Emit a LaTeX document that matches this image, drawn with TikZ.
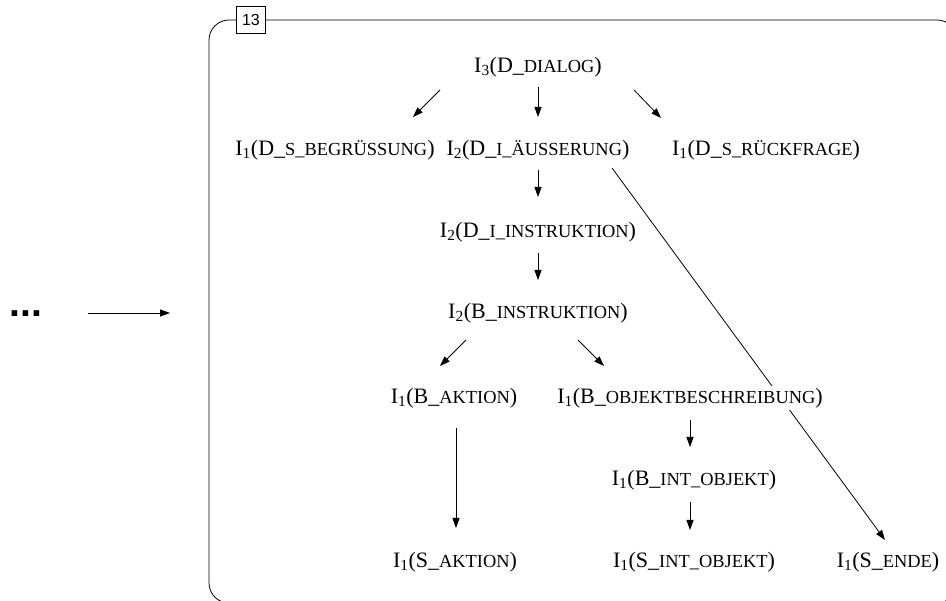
\documentclass[tikz,border=0pt]{standalone}
\usepackage{fontspec}
\setmainfont{Liberation Serif}
\setsansfont{Liberation Sans}
\usetikzlibrary{calc,arrows.meta,backgrounds}
% faked small capitals: upper case set smaller
\newcommand{\smc}[1]{{\fontsize{18.4}{20}\selectfont #1}}
% I_n(X_rest) label
\newcommand{\lbl}[3]{I\textsubscript{#1}(#2\_\smc{#3})}
\begin{document}
\begin{tikzpicture}[x=1pt,y=-1pt,
  lab/.style={inner sep=2pt,fill=white,font=\fontsize{22}{26}\selectfont},
  arr/.style={line width=0.8pt,-{Triangle[length=10pt,width=7pt]}},
  plain/.style={line width=0.8pt}]
\useasboundingbox (0,0) rectangle (946,601);
\clip (0,0) rectangle (946,601);

% enclosing frame with its number
\draw[plain,rounded corners=20pt] (209,20) rectangle (957,603);
\node[draw,fill=white,line width=0.8pt,inner sep=0pt,minimum width=29pt,minimum height=27pt,
      font=\sffamily\fontsize{16}{18}\selectfont] (num) at (251,20) {13};

% incoming edge
\node[font=\sffamily\bfseries\fontsize{39}{40}\selectfont,inner sep=0pt,anchor=base] (dots) at (26,317) {...};
\coordinate (inc) at (170,313);
\draw[arr] ($(dots.east |- inc)+(46,0)$) -- (inc);

% tree labels
\node[lab] (dialog) at (538,67) {\lbl{3}{D}{DIALOG}};
\node[lab] (begr)   at (335,150) {\lbl{1}{D}{S\_BEGRÜSSUNG}};
\node[lab] (aeuss)  at (538,150) {\lbl{2}{D}{I\_ÄUSSERUNG}};
\node[lab] (rueck)  at (766,150) {\lbl{1}{D}{S\_RÜCKFRAGE}};
\node[lab] (dinst)  at (538,232) {\lbl{2}{D}{I\_INSTRUKTION}};
\node[lab] (binst)  at (538,313) {\lbl{2}{B}{INSTRUKTION}};
\node[lab] (bakt)   at (454,398) {\lbl{1}{B}{AKTION}};
\node[lab] (bobj)   at (690,398) {\lbl{1}{B}{OBJEKTBESCHREIBUNG}};
\node[lab] (bint)   at (694,480) {\lbl{1}{B}{INT\_OBJEKT}};
\node[lab] (sakt)   at (455,562) {\lbl{1}{S}{AKTION}};
\node[lab] (sint)   at (694,562) {\lbl{1}{S}{INT\_OBJEKT}};
\node[lab] (sende)  at (888,562) {\lbl{1}{S}{ENDE}};

% edges
\draw[arr] ($(dialog)+(-98,23)$) -- ($(begr)+(78,-33)$);
\draw[arr] ($(dialog)+(0,20)$) -- ($(aeuss)+(0,-33)$);
\draw[arr] ($(dialog)+(96,23)$) -- ($(rueck)+(-105,-32)$);
\draw[arr] ($(aeuss)+(0,20)$) -- ($(dinst)+(0,-35)$);
\draw[arr] ($(dinst)+(0,21)$) -- ($(binst)+(0,-33)$);
\draw[arr] ($(binst)+(-72,27)$) -- ($(bakt)+(-14,-32)$);
\draw[arr] ($(binst)+(40,27)$) -- ($(bobj)+(-86,-32)$);
\draw[arr] ($(bakt)+(2,30)$) -- ($(sakt)+(1,-34)$);
\draw[arr] ($(bobj)+(0,22)$) -- ($(bint)+(-4,-33)$);
\draw[arr] ($(bint)+(-4,22)$) -- ($(sint)+(-4,-32)$);
\begin{scope}[on background layer]
\draw[arr] ($(aeuss)+(74,18)$) -- ($(sende)+(-3,-22)$);
\end{scope}
\end{tikzpicture}
\end{document}
